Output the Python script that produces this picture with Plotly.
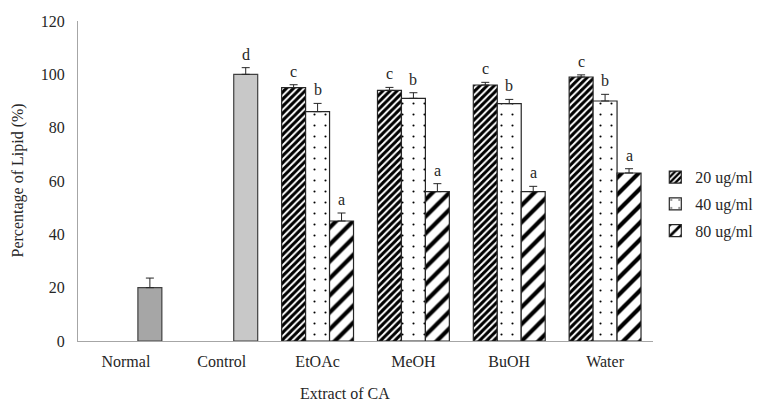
import plotly.graph_objects as go

categories = ["Normal", "Control", "EtOAc", "MeOH", "BuOH", "Water"]
ref_cats = ["Normal", "Control"]
ref_vals = [20, 100]
ref_err = [3.6, 2.5]
ref_letters = ["", "d"]
extracts = ["EtOAc", "MeOH", "BuOH", "Water"]
series_names = ["20 ug/ml", "40 ug/ml", "80 ug/ml"]
vals_20 = [95, 94, 96, 99]
vals_40 = [86, 91, 89, 90]
vals_80 = [45, 56, 56, 63]
err_20 = [1.1, 1.1, 1.0, 0.8]
err_40 = [3.1, 2.1, 1.6, 2.5]
err_80 = [3.0, 3.0, 2.0, 1.6]
letters_20 = ["c", "c", "c", "c"]
letters_40 = ["b", "b", "b", "b"]
letters_80 = ["a", "a", "a", "a"]
y_ticks = [0, 20, 40, 60, 80, 100, 120]

FONT = "Liberation Serif, Times New Roman, serif"
TXT = "#262626"
OUTLINE = "#262626"

fig = go.Figure()

def errbar(e):
    return dict(type="data", array=e, arrayminus=[0] * len(e), symmetric=False,
                color="#262626", thickness=1, width=4)

patterns = [
    dict(shape="/", fgcolor="black", bgcolor="white", size=5, solidity=0.6, fillmode="replace"),
    dict(shape=".", fgcolor="black", bgcolor="white", size=11, solidity=0.03, fillmode="replace"),
    dict(shape="/", fgcolor="black", bgcolor="white", size=12, solidity=0.35, fillmode="replace"),
]
series_vals = [vals_20, vals_40, vals_80]
series_err = [err_20, err_40, err_80]
series_letters = [letters_20, letters_40, letters_80]

for i, name in enumerate(series_names):
    fig.add_trace(go.Bar(
        x=extracts, y=series_vals[i], name=name, offsetgroup=str(i),
        marker=dict(color="white", pattern=patterns[i],
                    line=dict(color=OUTLINE, width=1.2)),
        error_y=errbar(series_err[i]), legendgroup=str(i),
    ))

fig.add_trace(go.Bar(
    x=ref_cats, y=ref_vals, name="ref", offsetgroup="2", showlegend=False,
    marker=dict(color=["#a6a6a6", "#c8c8c8"], line=dict(color="#404040", width=1.2)),
    error_y=errbar(ref_err),
))

annotations = []
shifts = [-24, 0, 24]
for i in range(3):
    for c, v, e, t in zip(extracts, series_vals[i], series_err[i], series_letters[i]):
        annotations.append(dict(x=c, y=v + e, text=t, showarrow=False, xshift=shifts[i],
                                yanchor="bottom", yshift=3,
                                font=dict(family=FONT, size=16, color=TXT)))
for c, v, e, t in zip(ref_cats, ref_vals, ref_err, ref_letters):
    if t:
        annotations.append(dict(x=c, y=v + e, text=t, showarrow=False, xshift=24,
                                yanchor="bottom", yshift=3,
                                font=dict(family=FONT, size=16, color=TXT)))

annotations.append(dict(text="Extract of CA", x=(345 - 78) / 575, y=(341 - 393) / 320,
                        xref="paper", yref="paper", xanchor="center", yanchor="middle",
                        showarrow=False, font=dict(family=FONT, size=16, color=TXT)))
annotations.append(dict(text="Percentage of Lipid (%)", x=(17.5 - 78) / 575, y=0.5,
                        xref="paper", yref="paper", xanchor="center", yanchor="middle",
                        textangle=-90, showarrow=False, font=dict(family=FONT, size=16, color=TXT)))

fig.update_layout(
    width=756, height=396,
    margin=dict(l=70, r=111, t=13, b=63, autoexpand=False),
    paper_bgcolor="white", plot_bgcolor="white",
    barmode="group", bargap=0.25, bargroupgap=0,
    font=dict(family=FONT, size=16, color=TXT),
    annotations=annotations,
    legend=dict(x=1.004, y=0.565, xanchor="left", yanchor="top",
                font=dict(family=FONT, size=16, color=TXT),
                tracegroupgap=3, itemwidth=30, bgcolor="rgba(0,0,0,0)"),
    xaxis=dict(categoryorder="array", categoryarray=categories, showline=True,
               linecolor="#a6a6a6", linewidth=1, ticks="", showgrid=False,
               ticklabelstandoff=6,
               tickfont=dict(family=FONT, size=16, color=TXT)),
    yaxis=dict(range=[0, 120], tickvals=y_ticks, showline=True, linecolor="#a6a6a6",
               linewidth=1, ticks="", showgrid=False, zeroline=False,
               ticklabelstandoff=9,
               tickfont=dict(family=FONT, size=16, color=TXT)),
)

fig.write_html("out.html")
